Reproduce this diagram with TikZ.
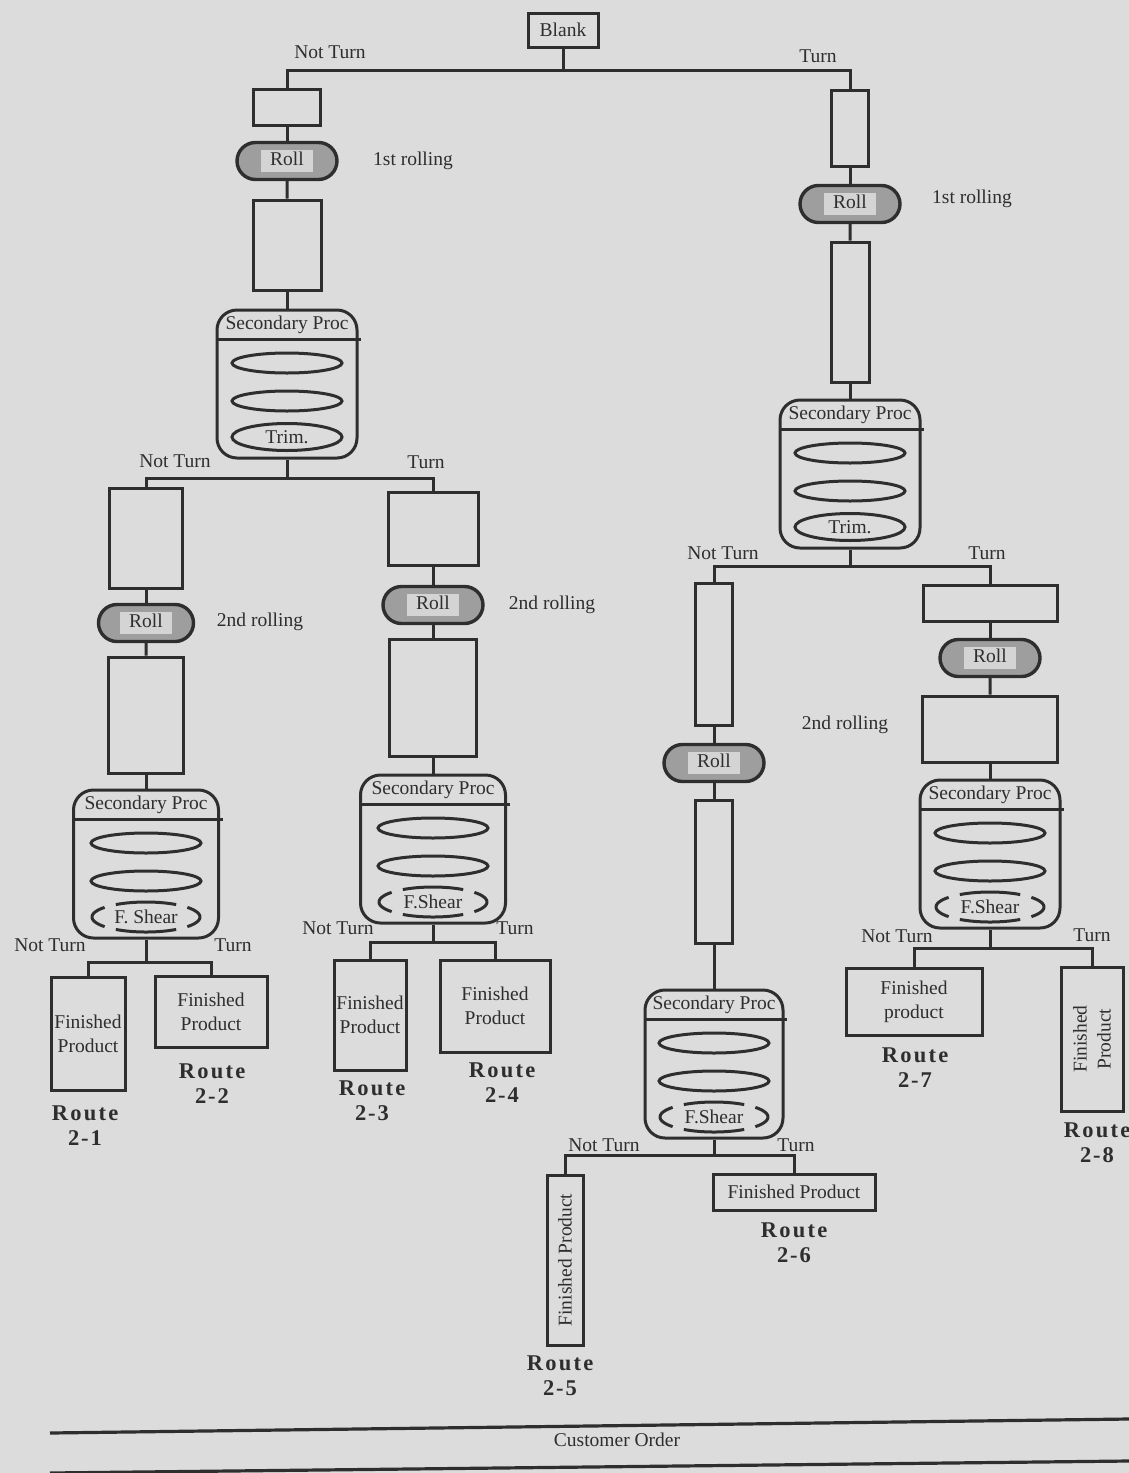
\documentclass[tikz,border=0pt]{standalone}
\usepackage{fontspec}
\setmainfont{Liberation Serif}
\newfontfamily\routefont[LetterSpace=10]{Liberation Serif}
\usetikzlibrary{shapes.geometric,shapes.misc}
\definecolor{bgc}{HTML}{DCDCDC}
\definecolor{ink}{HTML}{2E2E2E}
\definecolor{pillc}{HTML}{9E9E9E}
\definecolor{rollbg}{HTML}{D4D4D4}
\setlength{\fboxsep}{1pt}
\tikzset{
  lab/.style={font=\fontsize{19.5}{24}\selectfont, text=ink, inner sep=0pt},
  ln/.style={draw=ink, line width=3pt},
  box/.style={lab, draw=ink, line width=3pt, rectangle, align=center},
  pill/.style={lab, draw=ink, line width=3.4pt, fill=pillc, rounded rectangle, minimum width=100pt, minimum height=37pt},
  spbox/.style={draw=ink, line width=3pt, rectangle, rounded corners=20pt, minimum height=148pt},
  oval/.style={lab, draw=ink, line width=3pt, ellipse, minimum width=110pt, minimum height=20pt},
  route/.style={font=\routefont\bfseries\fontsize{22.5}{25}\selectfont, text=ink, align=center, inner sep=0pt},
}
\newcommand\rl{\colorbox{rollbg}{\rule[-6pt]{0pt}{20pt}\hspace{8pt}Roll\hspace{8pt}}}
\newcommand\rn[1]{2\kern2pt-\kern2pt#1}
\newcommand\spunit[6]{%
  \node[spbox, minimum width=#4pt] (#1) at (#2,#3+74) {};
  \node[lab] (#1h) at (#2,#3+15) {Secondary Proc};
  \draw[ln] (#2-#4/2,#3+29) -- (#2+#4/2+4,#3+29);
  \node[oval] (#1a) at (#2,#3+53) {};
  \node[oval] (#1b) at (#2,#3+91) {};
  \ifnum#6=1
    \node[oval, minimum height=27pt] (#1c) at (#2,#3+127) {#5};
  \else
    \node[lab] (#1c) at (#2,#3+127) {#5};
    \draw[ln] plot[domain=56:124,samples=16] ({#2+54*cos(\x)},{#3+127-15*sin(\x)});
    \draw[ln] plot[domain=236:304,samples=16] ({#2+54*cos(\x)},{#3+127-15*sin(\x)});
    \draw[ln] plot[domain=140:220,samples=16] ({#2+54*cos(\x)},{#3+127-15*sin(\x)});
    \draw[ln] plot[domain=-40:40,samples=16] ({#2+54*cos(\x)},{#3+127-15*sin(\x)});
  \fi
}
\begin{document}
\begin{tikzpicture}[x=1pt,y=-1pt]
\fill[bgc] (0,0) rectangle (1129,1473);
\useasboundingbox (0,0) rectangle (1129,1473);

% top
\node[box, minimum width=70pt, minimum height=34pt] (blank) at (563,30) {Blank};
\coordinate (j0) at (563,70);
\node[lab] (nt0) at (330,52) {Not Turn};
\node[lab] (t0) at (818,56) {Turn};

% L
\node[box, minimum width=67pt, minimum height=36pt] (Lb1) at (287,107) {};
\node[pill] (Lroll) at (287,161) {\rl};
\node[lab] (Lr1) at (413,161) {1st rolling};
\node[box, minimum width=68pt, minimum height=90pt] (Lb2) at (287,245) {};
\spunit{Lsp}{287}{310}{140}{Trim.}{1}
\coordinate (j1) at (287,478);
\node[lab] (nt1) at (175,461) {Not Turn};
\node[lab] (t1) at (426,462) {Turn};

% LL
\node[box, minimum width=73pt, minimum height=100pt] (LLb1) at (146,538) {};
\node[pill, minimum width=95pt] (LLroll) at (146,623) {\rl};
\node[lab] (LLr) at (260,622) {2nd rolling};
\node[box, minimum width=75pt, minimum height=116pt] (LLb2) at (146,715) {};
\spunit{LLsp}{146}{790}{145}{F. Shear}{2}
\coordinate (j2) at (146,962);
\node[lab] (nt2) at (50,945) {Not Turn};
\node[lab] (t2) at (233,945) {Turn};
\node[box, minimum width=74pt, minimum height=113pt] (F21) at (88,1034) {Finished\\Product};
\node[box, minimum width=112pt, minimum height=71pt] (F22) at (211,1012) {Finished\\Product};
\node[route] (R21) at (85,1126) {Route\\\rn{1}};
\node[route] (R22) at (212,1084) {Route\\\rn{2}};

% LR
\node[box, minimum width=90pt, minimum height=73pt] (LRb1) at (433,529) {};
\node[pill] (LRroll) at (433,605) {\rl};
\node[lab] (LRr) at (552,605) {2nd rolling};
\node[box, minimum width=87pt, minimum height=117pt] (LRb2) at (433,698) {};
\spunit{LRsp}{433}{775}{145}{F.Shear}{2}
\coordinate (j3) at (433,942);
\node[lab] (nt3) at (338,928) {Not Turn};
\node[lab] (t3) at (515,928) {Turn};
\node[box, minimum width=72pt, minimum height=110pt] (F23) at (370,1015) {Finished\\Product};
\node[box, minimum width=110pt, minimum height=92pt] (F24) at (495,1006) {Finished\\Product};
\node[route] (R23) at (372,1101) {Route\\\rn{3}};
\node[route] (R24) at (502,1083) {Route\\\rn{4}};

% R
\node[box, minimum width=37pt, minimum height=76pt] (Rb1) at (850,128) {};
\node[pill] (Rroll) at (850,204) {\rl};
\node[lab] (Rr1) at (972,199) {1st rolling};
\node[box, minimum width=38pt, minimum height=140pt] (Rb2) at (850,312) {};
\spunit{Rsp}{850}{400}{140}{Trim.}{1}
\coordinate (j4) at (850,566);
\node[lab] (nt4) at (723,553) {Not Turn};
\node[lab] (t4) at (987,553) {Turn};

% RL
\node[box, minimum width=37pt, minimum height=142pt] (RLb1) at (714,654) {};
\node[pill] (RLroll) at (714,763) {\rl};
\node[box, minimum width=37pt, minimum height=143pt] (RLb2) at (714,872) {};
\spunit{RLsp}{714}{990}{138}{F.Shear}{2}
\coordinate (j5) at (714,1155);
\node[lab] (nt5) at (604,1145) {Not Turn};
\node[lab] (t5) at (796,1145) {Turn};
\node[box, rotate=90, minimum width=170pt, minimum height=36pt] (F25) at (565,1260) {Finished Product};
\node[box, minimum width=162pt, minimum height=36pt] (F26) at (794,1192) {Finished Product};
\node[route] (R25) at (560,1376) {Route\\\rn{5}};
\node[route] (R26) at (794,1243) {Route\\\rn{6}};

% RR
\node[box, minimum width=134pt, minimum height=36pt] (RRb1) at (990,603) {};
\node[pill] (RRroll) at (990,658) {\rl};
\node[box, minimum width=135pt, minimum height=66pt] (RRb2) at (990,729) {};
\node[lab] (RRr) at (845,725) {2nd rolling};
\spunit{RRsp}{990}{780}{140}{F.Shear}{2}
\coordinate (j6) at (990,948);
\node[lab] (nt6) at (897,936) {Not Turn};
\node[lab] (t6) at (1092,935) {Turn};
\node[box, minimum width=136pt, minimum height=67pt] (F27) at (914,1002) {Finished\\product};
\node[box, rotate=90, minimum width=144pt, minimum height=62pt] (F28) at (1092,1039) {Finished\\Product};
\node[route] (R27) at (915,1068) {Route\\\rn{7}};
\node[route] (R28) at (1097,1143) {Route\\\rn{8}};

% connectors
\draw[ln] (blank) -- (j0);
\draw[ln] (Lb1) |- (j0) -| (Rb1);
\draw[ln] (Lb1) -- (Lroll);
\draw[ln] (Lroll) -- (Lb2);
\draw[ln] (Lb2) -- (Lsp);
\draw[ln] (Lsp) -- (j1);
\draw[ln] (LLb1) |- (j1) -| (LRb1);
\draw[ln] (LLb1) -- (LLroll);
\draw[ln] (LLroll) -- (LLb2);
\draw[ln] (LLb2) -- (LLsp);
\draw[ln] (LLsp) -- (j2);
\draw[ln] (F21) |- (j2) -| (F22);
\draw[ln] (LRb1) -- (LRroll);
\draw[ln] (LRroll) -- (LRb2);
\draw[ln] (LRb2) -- (LRsp);
\draw[ln] (LRsp) -- (j3);
\draw[ln] (F23) |- (j3) -| (F24);
\draw[ln] (Rb1) -- (Rroll);
\draw[ln] (Rroll) -- (Rb2);
\draw[ln] (Rb2) -- (Rsp);
\draw[ln] (Rsp) -- (j4);
\draw[ln] (RLb1) |- (j4) -| (RRb1);
\draw[ln] (RLb1) -- (RLroll);
\draw[ln] (RLroll) -- (RLb2);
\draw[ln] (RLb2) -- (RLsp);
\draw[ln] (RLsp) -- (j5);
\draw[ln] (F25) |- (j5) -| (F26);
\draw[ln] (RRb1) -- (RRroll);
\draw[ln] (RRroll) -- (RRb2);
\draw[ln] (RRb2) -- (RRsp);
\draw[ln] (RRsp) -- (j6);
\draw[ln] (F27) |- (j6) -| (F28);

% customer order band
\draw[ink, line width=3.2pt] (50,1433) -- (1129,1419);
\draw[ink, line width=3.2pt] (50,1473) -- (1129,1461);
\node[lab] (co) at (617,1440) {Customer Order};
\end{tikzpicture}
\end{document}
